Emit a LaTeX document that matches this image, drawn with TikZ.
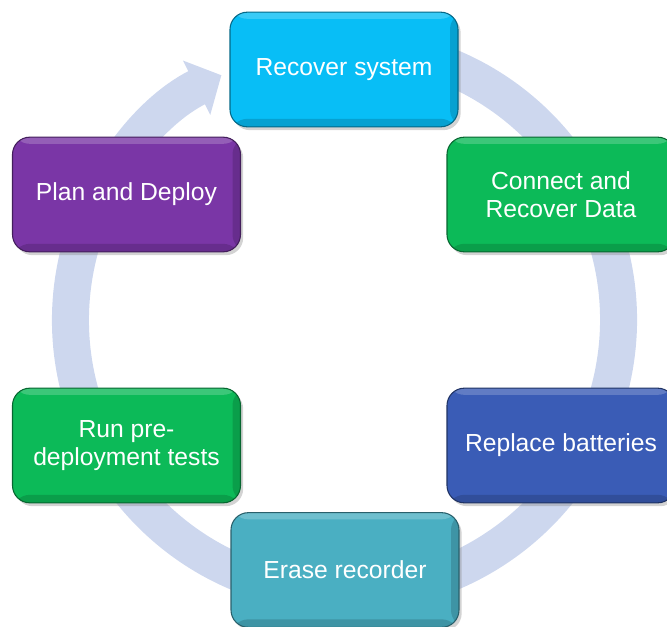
\documentclass[tikz,border=0pt]{standalone}
\usepackage{fontspec}
\setmainfont{Liberation Sans}
\usepackage{tikz}
\usetikzlibrary{arrows.meta,shadows}
\definecolor{ringc}{HTML}{CDD7EE}
\definecolor{cyanbox}{HTML}{08BEF6}
\definecolor{greenbox}{HTML}{0CBA58}
\definecolor{bluebox}{HTML}{3A5CB6}
\definecolor{tealbox}{HTML}{4AAFC2}
\definecolor{purplebox}{HTML}{7A36A6}

\begin{document}
\begin{tikzpicture}[x=0.75pt,y=0.75pt,
  stage/.style={rounded corners=13pt,minimum width=171pt,minimum height=86pt,
    align=center,text=white,font=\fontsize{18.5}{21}\selectfont,
    fill=#1,draw=#1!55!black,line width=0.8pt,
    drop shadow={opacity=0.35,shadow xshift=2pt,shadow yshift=-2.5pt},
    path picture={
      \fill[white,opacity=0.2] (path picture bounding box.north west)
        rectangle ([yshift=-5pt]path picture bounding box.north east);
      \fill[black,opacity=0.15] ([xshift=-6pt]path picture bounding box.south east)
        rectangle (path picture bounding box.north east);
      \fill[black,opacity=0.15] (path picture bounding box.south west)
        rectangle ([yshift=6pt]path picture bounding box.south east);
    }}]
  \clip (0,0) rectangle (667,626);
  % the cycle ring
  \coordinate (hub) at (344.5,306);
  \draw[ringc,line width=27.75pt,-{Triangle[width=0pt 1.6,length=0pt 0.75]}]
    ([shift={(78:274)}]hub) arc[start angle=78,end angle=-243.3,radius=274];
  % stages
  \node[stage=cyanbox] (recover) at (344,556.5) {Recover system};
  \node[stage=greenbox] (connect) at (561,431.5) {Connect and\\Recover Data};
  \node[stage=bluebox] (replace) at (561,180.5) {Replace batteries};
  \node[stage=tealbox] (erase) at (345,56) {Erase recorder};
  \node[stage=greenbox] (tests) at (126.5,180.5) {Run pre-\\deployment tests};
  \node[stage=purplebox] (plan) at (126.5,431.5) {Plan and Deploy};
\end{tikzpicture}
\end{document}
